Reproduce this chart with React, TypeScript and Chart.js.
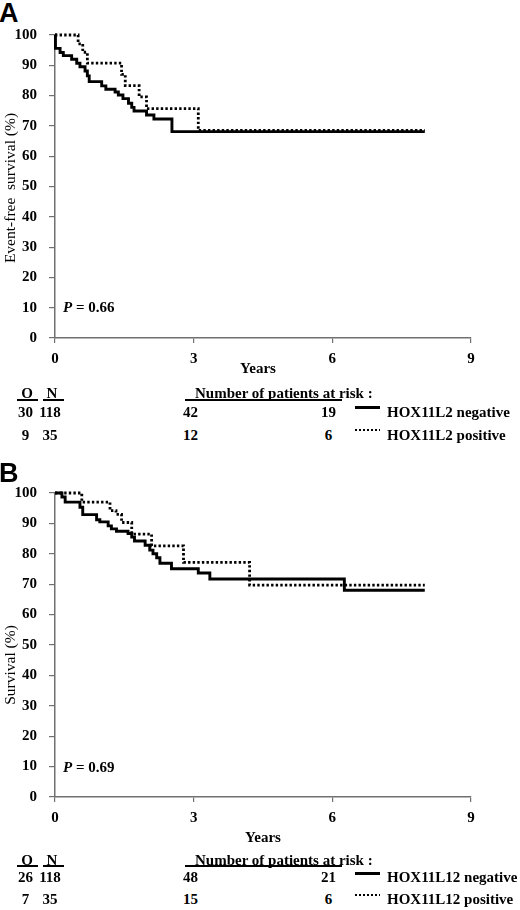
import React, { useEffect, useRef } from "react";
import { Chart, registerables } from "chart.js";

Chart.register(...registerables);

// ---------- data ----------
const YEAR_TICKS = [0, 3, 6, 9];
const SURV_TICKS = [0, 10, 20, 30, 40, 50, 60, 70, 80, 90, 100];

// Panel A: event-free survival
const A_NEG_TIME = [0, 0.01, 0.11, 0.18, 0.36, 0.47, 0.54, 0.65, 0.7, 0.74, 1.01, 1.1, 1.3, 1.37, 1.47, 1.59, 1.66, 1.71, 1.98, 2.14, 2.53, 8.0];
const A_NEG_SURV = [100, 95.6, 94.2, 93.2, 92.0, 90.7, 89.5, 88.1, 86.5, 84.6, 83.2, 82.1, 81.2, 80.2, 79.0, 77.5, 76.1, 74.9, 73.6, 72.3, 68.1, 68.1];
const A_POS_TIME = [0, 0.5, 0.6, 0.7, 1.44, 1.52, 1.82, 1.98, 3.1, 8.0];
const A_POS_SURV = [100, 97.1, 94.3, 90.7, 87.0, 83.3, 79.6, 75.7, 68.5, 68.5];

// Panel B: overall survival
const B_NEG_TIME = [0, 0.15, 0.22, 0.54, 0.6, 0.9, 0.97, 1.15, 1.22, 1.33, 1.58, 1.66, 1.72, 1.95, 2.05, 2.12, 2.2, 2.27, 2.52, 3.1, 3.35, 6.26, 8.0];
const B_NEG_SURV = [100, 98.7, 97.0, 95.3, 92.9, 91.2, 90.5, 89.2, 88.2, 87.4, 86.7, 85.5, 84.2, 82.8, 81.2, 80.0, 78.7, 76.9, 75.1, 73.7, 71.7, 68.0, 68.0];
const B_POS_TIME = [0, 0.58, 1.19, 1.32, 1.44, 1.66, 2.09, 2.78, 4.21, 8.0];
const B_POS_SURV = [100, 97.0, 94.2, 93.0, 90.3, 86.5, 82.6, 77.2, 69.7, 69.7];

// Risk tables
const A_GROUPS = ["HOX11L2 negative", "HOX11L2 positive"];
const A_O = [30, 9];
const A_N = [118, 35];
const A_RISK3 = [42, 12];
const A_RISK6 = [19, 6];

const B_GROUPS = ["HOX11L12 negative", "HOX11L12 positive"];
const B_O = [26, 7];
const B_N = [118, 35];
const B_RISK3 = [48, 15];
const B_RISK6 = [21, 6];

// ---------- styling ----------
const SERIF = "'Liberation Serif', 'Times New Roman', serif";
const SANS = "'Liberation Sans', Arial, sans-serif";
const AXIS = "#707070";

function toPts(t: number[], s: number[]) {
  return t.map((x, i) => ({ x, y: s[i] }));
}

function KMChart(props: { top: number; height: number; negT: number[]; negS: number[]; posT: number[]; posS: number[] }) {
  const ref = useRef<HTMLCanvasElement>(null);
  useEffect(() => {
    const tickFont = { family: SERIF, size: 15, weight: "bold" as const };
    const chart = new Chart(ref.current as HTMLCanvasElement, {
      type: "line",
      data: {
        datasets: [
          {
            data: toPts(props.negT, props.negS),
            borderColor: "#000",
            borderWidth: 2.9,
            stepped: true,
            pointRadius: 0,
            fill: false,
            clip: 6,
          } as any,
          {
            data: toPts(props.posT, props.posS),
            borderColor: "#000",
            borderWidth: 2.8,
            borderDash: [2.4, 2.2],
            stepped: true,
            pointRadius: 0,
            fill: false,
            clip: 6,
          } as any,
        ],
      },
      options: {
        animation: false,
        responsive: false,
        maintainAspectRatio: false,
        devicePixelRatio: 1,
        layout: { padding: { top: 35, right: 49, left: 0, bottom: 0 } },
        plugins: { legend: { display: false }, tooltip: { enabled: false } },
        scales: {
          x: {
            type: "linear",
            min: 0,
            max: 9,
            afterBuildTicks: (s: any) => {
              s.ticks = YEAR_TICKS.map((v) => ({ value: v }));
            },
            afterFit: (s: any) => {
              s.height = 34;
            },
            ticks: { color: "#000", font: tickFont, padding: 7, maxRotation: 0 },
            grid: { drawOnChartArea: false, drawTicks: true, tickLength: 5, color: AXIS, lineWidth: 1.2 },
            border: { color: AXIS, width: 1.5 },
          },
          y: {
            type: "linear",
            min: 0,
            max: 100,
            afterBuildTicks: (s: any) => {
              s.ticks = SURV_TICKS.map((v) => ({ value: v }));
            },
            afterFit: (s: any) => {
              s.width = 55;
            },
            ticks: { color: "#000", font: tickFont, padding: 12 },
            grid: { drawOnChartArea: false, drawTicks: true, tickLength: 6, color: AXIS, lineWidth: 1.2 },
            border: { color: AXIS, width: 1.5 },
          },
        },
      } as any,
    });
    return () => chart.destroy();
  }, []);
  return (
    <canvas
      ref={ref}
      width={520}
      height={props.height}
      style={{ position: "absolute", left: 0, top: props.top, width: 520, height: props.height }}
    />
  );
}

function T(props: { x: number; y: number; align?: "l" | "c" | "r"; style?: React.CSSProperties; children: React.ReactNode }) {
  const a = props.align || "c";
  const tx = a === "c" ? "-50%" : a === "r" ? "-100%" : "0";
  return (
    <div
      style={{
        position: "absolute",
        left: props.x,
        top: props.y,
        transform: `translate(${tx},-50%)`,
        lineHeight: 1,
        whiteSpace: "pre",
        fontFamily: SERIF,
        fontWeight: "bold",
        fontSize: 15,
        color: "#000",
        ...props.style,
      }}
    >
      {props.children}
    </div>
  );
}

function HLine(props: { x1: number; x2: number; y: number; w?: number; dotted?: boolean }) {
  const w = props.w || 1.5;
  return (
    <div
      style={{
        position: "absolute",
        left: props.x1,
        top: props.y - w / 2,
        width: props.x2 - props.x1,
        height: w,
        background: props.dotted
          ? "repeating-linear-gradient(90deg, #000 0px, #000 2px, transparent 2px, transparent 4px)"
          : "#000",
      }}
    />
  );
}

type PanelCfg = {
  letter: string;
  letterY: number;
  chartTop: number;
  chartH: number;
  yTitle: string;
  yTitleY: number;
  pY: number;
  pText: string;
  yearsX: number;
  yearsY: number;
  headY: number;
  headLineY: number;
  row1Y: number;
  row2Y: number;
  leg1Y: number;
  leg2Y: number;
  groups: string[];
  O: number[];
  N: number[];
  r3: number[];
  r6: number[];
  negT: number[];
  negS: number[];
  posT: number[];
  posS: number[];
};

function Panel({ c }: { c: PanelCfg }) {
  const rows = [c.row1Y, c.row2Y];
  const legs = [c.leg1Y, c.leg2Y];
  return (
    <>
      <T x={-1} y={c.letterY} align="l" style={{ fontFamily: SANS, fontSize: 27 }}>
        {c.letter}
      </T>
      <KMChart top={c.chartTop} height={c.chartH} negT={c.negT} negS={c.negS} posT={c.posT} posS={c.posS} />
      <T x={10} y={c.yTitleY} style={{ fontWeight: "normal", fontSize: 15.5, transform: "translate(-50%,-50%) rotate(-90deg)" }}>
        {c.yTitle}
      </T>
      <T x={63} y={c.pY} align="l">
        <i>P</i>
        {" = " + c.pText}
      </T>
      <T x={c.yearsX} y={c.yearsY}>Years</T>
      <T x={27} y={c.headY}>O</T>
      <T x={52} y={c.headY}>N</T>
      <HLine x1={17} x2={38} y={c.headLineY} />
      <HLine x1={43} x2={64} y={c.headLineY} />
      <T x={195} y={c.headY} align="l">Number of patients at risk :</T>
      <HLine x1={185} x2={342} y={c.headLineY} />
      {rows.map((ry, i) => (
        <React.Fragment key={i}>
          <T x={25.5} y={ry}>{String(c.O[i])}</T>
          <T x={50} y={ry}>{String(c.N[i])}</T>
          <T x={190.5} y={ry}>{String(c.r3[i])}</T>
          <T x={328.5} y={ry}>{String(c.r6[i])}</T>
          <HLine x1={355} x2={380} y={legs[i]} w={i === 0 ? 3 : 2.5} dotted={i === 1} />
          <T x={387} y={ry} align="l">{c.groups[i]}</T>
        </React.Fragment>
      ))}
    </>
  );
}

const PANEL_A: PanelCfg = {
  letter: "A",
  letterY: 13,
  chartTop: 0,
  chartH: 372,
  yTitle: "Event-free  survival (%)",
  yTitleY: 188,
  pY: 307,
  pText: "0.66",
  yearsX: 258,
  yearsY: 368,
  headY: 393,
  headLineY: 400,
  row1Y: 411.5,
  row2Y: 435,
  leg1Y: 407,
  leg2Y: 430,
  groups: A_GROUPS,
  O: A_O,
  N: A_N,
  r3: A_RISK3,
  r6: A_RISK6,
  negT: A_NEG_TIME,
  negS: A_NEG_SURV,
  posT: A_POS_TIME,
  posS: A_POS_SURV,
};

const PANEL_B: PanelCfg = {
  letter: "B",
  letterY: 473,
  chartTop: 458,
  chartH: 373,
  yTitle: "Survival (%)",
  yTitleY: 665,
  pY: 767,
  pText: "0.69",
  yearsX: 263,
  yearsY: 837,
  headY: 859.5,
  headLineY: 866,
  row1Y: 877,
  row2Y: 898.5,
  leg1Y: 873.5,
  leg2Y: 895,
  groups: B_GROUPS,
  O: B_O,
  N: B_N,
  r3: B_RISK3,
  r6: B_RISK6,
  negT: B_NEG_TIME,
  negS: B_NEG_SURV,
  posT: B_POS_TIME,
  posS: B_POS_SURV,
};

export default function App() {
  return (
    <div style={{ position: "absolute", left: 0, top: 0, width: 520, height: 910, background: "#fff", overflow: "hidden" }}>
      <Panel c={PANEL_A} />
      <Panel c={PANEL_B} />
    </div>
  );
}
